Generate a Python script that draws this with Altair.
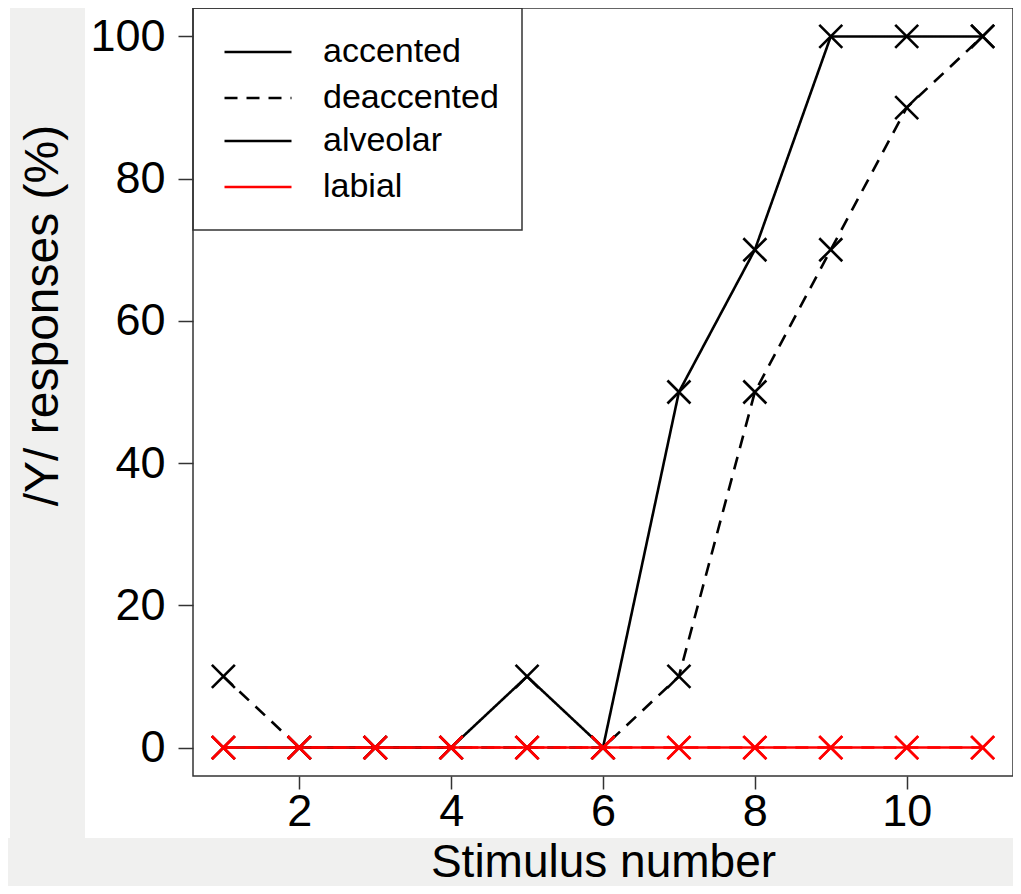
import altair as alt
import pandas as pd

# ---- data ----
stimulus = [1, 2, 3, 4, 5, 6, 7, 8, 9, 10, 11]
alveolar_accented = [0, 0, 0, 0, 10, 0, 50, 70, 100, 100, 100]
alveolar_deaccented = [10, 0, 0, 0, 0, 0, 10, 50, 70, 90, 100]
labial_accented = [0, 0, 0, 0, 0, 0, 0, 0, 0, 0, 0]
labial_deaccented = [0, 0, 0, 0, 0, 0, 0, 0, 0, 0, 0]
accent_levels = ["accented", "deaccented"]
place_levels = ["alveolar", "labial"]
x_ticks = [2, 4, 6, 8, 10]
y_ticks = [0, 20, 40, 60, 80, 100]

rows = []
for place, accent, vals in [
    ("alveolar", "accented", alveolar_accented),
    ("alveolar", "deaccented", alveolar_deaccented),
    ("labial", "accented", labial_accented),
    ("labial", "deaccented", labial_deaccented),
]:
    for s, v in zip(stimulus, vals):
        rows.append({"stimulus": s, "value": v, "place": place,
                     "accent": accent, "series": place + " " + accent})
df = pd.DataFrame(rows)
one = pd.DataFrame({"k": [0]})

# ---- layout / style ----
W, H = 820, 768
FONT = "Liberation Sans"
LW = 2.6
DARK = "#333333"
X_SHAPE = "M-1,-1L1,1M1,-1L-1,1"

x_enc = alt.X(
    "stimulus:Q",
    scale=alt.Scale(domain=[0.6, 11.4], nice=False, zero=False),
    axis=alt.Axis(values=x_ticks, title="Stimulus number", domain=False, grid=False,
                  tickSize=13, tickColor=DARK, tickWidth=1.5,
                  labelFont=FONT, labelFontSize=45, labelColor="black", labelPadding=0,
                  labelOverlap=False, labelFlush=False,
                  titleFont=FONT, titleFontSize=46, titleFontWeight="normal",
                  titleColor="black", titleX=W / 2, titleY=100, titleAlign="center",
                  titleBaseline="alphabetic", zindex=1),
)
y_enc = alt.Y(
    "value:Q",
    scale=alt.Scale(domain=[-4, 104], nice=False, zero=False),
    axis=alt.Axis(values=y_ticks, title="/Y/ responses (%)", domain=False, grid=False,
                  tickSize=15, tickColor=DARK, tickWidth=1.5,
                  labelFont=FONT, labelFontSize=45, labelColor="black", labelPadding=13,
                  labelOverlap=False, labelFlush=False,
                  titleFont=FONT, titleFontSize=48, titleFontWeight="normal",
                  titleColor="black", titleX=-136, titleY=307, titleAngle=270,
                  titleAlign="center", titleBaseline="alphabetic", zindex=1),
)

legend_common = dict(
    title=None, orient="none", legendX=30, padding=0, symbolType="stroke",
    symbolSize=4489, symbolStrokeWidth=LW, clipHeight=46, rowPadding=0,
    labelFont=FONT, labelFontSize=34, labelColor="black", labelOffset=30,
    labelLimit=400,
)
color_enc = alt.Color(
    "place:N",
    scale=alt.Scale(domain=place_levels, range=["black", "red"]),
    legend=alt.Legend(legendY=110, **legend_common),
)
dash_enc = alt.StrokeDash(
    "accent:N",
    scale=alt.Scale(domain=accent_levels, range=[[1, 0], [13, 9]]),
    legend=alt.Legend(legendY=21, symbolStrokeColor="black", **legend_common),
)

# ---- background decorations ----
white_bg = alt.Chart(one).mark_rect(fill="white").encode(
    x=alt.value(-108), x2=alt.value(W), y=alt.value(0), y2=alt.value(830)
)
white_strip = alt.Chart(one).mark_rect(fill="white").encode(
    x=alt.value(-185), x2=alt.value(-183), y=alt.value(0), y2=alt.value(830)
)
legend_box = alt.Chart(one).mark_rect(fill="white", stroke=DARK, strokeWidth=1.5).encode(
    x=alt.value(0), x2=alt.value(329), y=alt.value(0), y2=alt.value(222)
)
plot_box = alt.Chart(one).mark_rect(fill="white", fillOpacity=0, stroke=DARK, strokeWidth=1.5).encode(
    x=alt.value(0), x2=alt.value(W), y=alt.value(0), y2=alt.value(H)
)

base = alt.Chart(df)
alv_lines = base.transform_filter(alt.datum.place == "alveolar").mark_line(
    strokeWidth=LW).encode(x=x_enc, y=y_enc, color=color_enc, strokeDash=dash_enc,
                           detail="series:N")
lab_lines = base.transform_filter(alt.datum.place == "labial").mark_line(
    strokeWidth=LW).encode(x=x_enc, y=y_enc, color=color_enc, strokeDash=dash_enc,
                           detail="series:N")
alv_pts = base.transform_filter(alt.datum.place == "alveolar").mark_point(
    shape=X_SHAPE, filled=False, size=529, strokeWidth=LW, opacity=1).encode(
    x=x_enc, y=y_enc, color=alt.value("black"))
lab_pts = base.transform_filter(alt.datum.place == "labial").mark_point(
    shape=X_SHAPE, filled=False, size=529, strokeWidth=LW, opacity=1).encode(
    x=x_enc, y=y_enc, color=alt.value("red"))

chart = alt.layer(
    white_bg, white_strip, legend_box, alv_lines, alv_pts, lab_lines, lab_pts, plot_box
).properties(
    width=W, height=H,
    padding={"left": 185, "top": 0, "right": 0, "bottom": 110},
    autosize=alt.AutoSizeParams(type="none"),
    background="#f0f0ef",
).configure_view(stroke="transparent")

chart.save("out.html", embed_options={"renderer": "svg", "actions": False})
